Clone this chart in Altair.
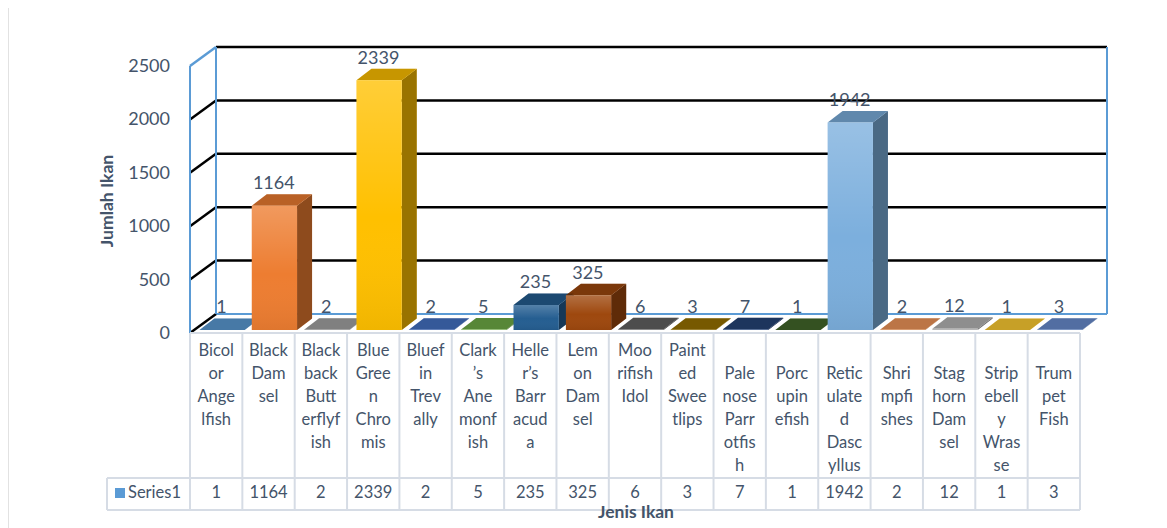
import altair as alt
import pandas as pd

# ---------------- data ----------------
categories = [
    "Bicolor Angelfish", "Black Damsel", "Blackback Butterflyfish", "Blue Green Chromis",
    "Bluefin Trevally", "Clark’s Anemonfish", "Heller’s Barracuda", "Lemon Damsel",
    "Moorish Idol", "Painted Sweetlips", "Palenose Parrotfish", "Porcupinefish",
    "Reticulated Dascyllus", "Shrimpfishes", "Staghorn Damsel", "Stripebelly Wrasse",
    "Trumpet Fish",
]
values = [1, 1164, 2, 2339, 2, 5, 235, 325, 6, 3, 7, 1, 1942, 2, 12, 1, 3]
# category labels as wrapped in the data table header
header_labels = [
    "Bicol|or|Ange|lfish", "Black|Dam|sel", "Black|back|Butt|erflyf|ish",
    "Blue|Gree|n|Chro|mis", "Bluef|in|Trev|ally", "Clark|’s|Ane|monf|ish",
    "Helle|r’s|Barr|acud|a", "Lem|on|Dam|sel", "Moo|rifish|Idol", "Paint|ed|Swee|tlips",
    " |Pale|nose|Parr|otfis|h", " |Porc|upin|efish", " |Retic|ulate|d|Dasc|yllus",
    " |Shri|mpfi|shes", " |Stag|horn|Dam|sel", " |Strip|ebell|y|Wras|se", " |Trum|pet|Fish",
]
y_ticks = [0, 500, 1000, 1500, 2000, 2500]
series_name = "Series1"
y_title = "Jumlah Ikan"
x_title = "Jenis Ikan"

palette = ["#5B9BD5", "#ED7D31", "#A5A5A5", "#FFC000", "#4472C4", "#70AD47",
           "#255E91", "#9E480E", "#636363", "#997300", "#264478", "#43682B",
           "#7CAFDD", "#F1975A", "#B7B7B7", "#FFCD33", "#698ED0"]

TXT = "#44546A"
BLUE = "#5B9BD5"
GRID = "#D6DCE5"
FONT = "Lato"

# ---------------- geometry (pixel layout of the view) ----------------
N = len(categories)
X_RANGE = [182, 1072]          # table columns span
Y_RANGE = [322, 55]            # value 0 .. 2500 at bar front plane
px_per_col = (X_RANGE[1] - X_RANGE[0]) / N
px_per_unit = (Y_RANGE[0] - Y_RANGE[1]) / 2500
DX = 15 / px_per_col           # bar depth, horizontal
DY = 11.5 / px_per_unit        # bar depth, vertical
F0, F1 = 0.18, 1.045           # front face inside a column

xs = alt.Scale(domain=[0, N], range=X_RANGE, nice=False, zero=False)
ys = alt.Scale(domain=[0, 2500], range=Y_RANGE, nice=False, zero=False)

front_rows, side_rows, top_rows, table_rows = [], [], [], []
for i, (c, v, h) in enumerate(zip(categories, values, header_labels)):
    front_rows.append(dict(cat=c, x0=i + F0, x1=i + F1, lo=0, hi=v))
    side_rows.append(dict(cat=c, x=i + F1, lo=0, hi=v))
    side_rows.append(dict(cat=c, x=i + F1 + DX, lo=DY, hi=v + DY))
    top_rows.append(dict(cat=c, y=v, l=i + F0, r=i + F1))
    top_rows.append(dict(cat=c, y=v + DY, l=i + F0 + DX, r=i + F1 + DX))
    table_rows.append(dict(cat=c, xc=i + 0.5, xl=i + 0.6, v=v, head=h))

front = pd.DataFrame(front_rows)
side = pd.DataFrame(side_rows)
top = pd.DataFrame(top_rows)
table = pd.DataFrame(table_rows)
ticks = pd.DataFrame({"t": y_ticks, "t2": y_ticks})
bounds = pd.DataFrame({"b": list(range(N + 1))})

color = alt.Color("cat:N", scale=alt.Scale(domain=categories, range=palette), legend=None)

# ---------------- walls, grid ----------------
grid = alt.Chart(ticks).transform_filter("datum.t > 0").mark_rule(
    color="black", strokeWidth=2.5, yOffset=-16
).encode(x=alt.value(208), x2=alt.value(1099), y=alt.Y("t:Q", scale=ys, axis=None))

floor_back = alt.Chart(ticks).transform_filter("datum.t == 0").mark_rule(
    color=BLUE, strokeWidth=2, yOffset=-16
).encode(x=alt.value(208), x2=alt.value(1099), y=alt.Y("t:Q", scale=ys, axis=None))

stubs = alt.Chart(ticks).mark_rule(strokeWidth=2.5, yOffset=3, y2Offset=-16).encode(
    x=alt.value(182), x2=alt.value(208),
    y=alt.Y("t:Q", scale=ys, axis=None), y2="t2:Q",
    color=alt.condition("datum.t == 2500", alt.value(BLUE), alt.value("black")),
)

wall_left = alt.Chart(ticks).transform_filter("datum.t == 0").mark_rule(
    color=BLUE, strokeWidth=2, yOffset=-16, y2Offset=-16
).encode(x=alt.value(208), y=alt.Y("t:Q", scale=ys, axis=None), y2=alt.datum(2500))
wall_right = alt.Chart(ticks).transform_filter("datum.t == 0").mark_rule(
    color=BLUE, strokeWidth=2, yOffset=-16, y2Offset=-16
).encode(x=alt.value(1099), y=alt.Y("t:Q", scale=ys, axis=None), y2=alt.datum(2500))
front_axis = alt.Chart(ticks).transform_filter("datum.t == 0").mark_rule(
    color=BLUE, strokeWidth=2, yOffset=3, y2Offset=3
).encode(x=alt.value(182), y=alt.Y("t:Q", scale=ys, axis=None), y2=alt.datum(2500))

tick_labels = alt.Chart(ticks).mark_text(
    align="right", baseline="middle", font=FONT, fontSize=18, color=TXT, yOffset=4
).encode(x=alt.value(162), y=alt.Y("t:Q", scale=ys, axis=None), text="t:Q")

# ---------------- 3D bars ----------------
side_faces = alt.Chart(side).mark_area(orient="vertical", opacity=1).encode(
    x=alt.X("x:Q", scale=xs, axis=None),
    y=alt.Y("lo:Q", scale=ys, axis=None, stack=None), y2="hi:Q",
    color=color, detail="cat:N",
)
side_shade = alt.Chart(side).mark_area(orient="vertical", color="black", opacity=0.4).encode(
    x=alt.X("x:Q", scale=xs, axis=None),
    y=alt.Y("lo:Q", scale=ys, axis=None, stack=None), y2="hi:Q",
    detail="cat:N",
)
top_faces = alt.Chart(top).mark_area(orient="horizontal", opacity=1).encode(
    y=alt.Y("y:Q", scale=ys, axis=None),
    x=alt.X("l:Q", scale=xs, axis=None, stack=None), x2="r:Q",
    color=color, detail="cat:N",
)
top_shade = alt.Chart(top).mark_area(orient="horizontal", color="black", opacity=0.22).encode(
    y=alt.Y("y:Q", scale=ys, axis=None),
    x=alt.X("l:Q", scale=xs, axis=None, stack=None), x2="r:Q",
    detail="cat:N",
)
front_faces = alt.Chart(front).mark_rect(opacity=1, fillOpacity=1).encode(
    x=alt.X("x0:Q", scale=xs, axis=None), x2="x1:Q",
    y=alt.Y("hi:Q", scale=ys, axis=None), y2="lo:Q",
    color=color,
)
front_sheen = alt.Chart(front).mark_rect(
    fill=alt.Gradient(
        gradient="linear", x1=0, y1=0, x2=0, y2=1,
        stops=[alt.GradientStop(color="rgba(255,255,255,0.22)", offset=0),
               alt.GradientStop(color="rgba(255,255,255,0.0)", offset=0.55),
               alt.GradientStop(color="rgba(0,0,0,0.06)", offset=1)],
    )
).encode(
    x=alt.X("x0:Q", scale=xs, axis=None), x2="x1:Q",
    y=alt.Y("hi:Q", scale=ys, axis=None), y2="lo:Q",
)
bar_labels = alt.Chart(table).mark_text(
    baseline="alphabetic", align="center", font=FONT, fontSize=18, color=TXT, yOffset=-16.5
).encode(x=alt.X("xl:Q", scale=xs, axis=None), y=alt.Y("v:Q", scale=ys, axis=None), text="v:Q")

# ---------------- data table ----------------
vlines = alt.Chart(bounds).mark_rule(color=GRID, strokeWidth=2).encode(
    x=alt.X("b:Q", scale=xs, axis=None), y=alt.value(325), y2=alt.value(502)
)
hline_top = alt.Chart(bounds).transform_filter("datum.b == 0").mark_rule(color=GRID, strokeWidth=2).encode(
    x=alt.value(182), x2=alt.value(1072), y=alt.value(325))
hline_mid = alt.Chart(bounds).transform_filter("datum.b == 0").mark_rule(color=GRID, strokeWidth=2).encode(
    x=alt.value(99), x2=alt.value(1072), y=alt.value(470))
hline_bot = alt.Chart(bounds).transform_filter("datum.b == 0").mark_rule(color=GRID, strokeWidth=2).encode(
    x=alt.value(99), x2=alt.value(1072), y=alt.value(502))
legend_left = alt.Chart(bounds).transform_filter("datum.b == 0").mark_rule(color=GRID, strokeWidth=2).encode(
    x=alt.value(99), y=alt.value(470), y2=alt.value(502))
outer_left = alt.Chart(bounds).transform_filter("datum.b == 0").mark_rule(color="#D9D9D9", strokeWidth=1.5).encode(
    x=alt.value(0), y=alt.value(-8), y2=alt.value(520))

header_text = alt.Chart(table).mark_text(
    baseline="top", align="center", font=FONT, fontSize=16.5, color=TXT, lineBreak="|", lineHeight=23
).encode(x=alt.X("xc:Q", scale=xs, axis=None), y=alt.value(335), text="head:N")

value_text = alt.Chart(table).mark_text(
    baseline="middle", align="center", font=FONT, fontSize=16.5, color=TXT
).encode(x=alt.X("xc:Q", scale=xs, axis=None), y=alt.value(485), text="v:Q")

legend_key = alt.Chart(bounds).transform_filter("datum.b == 0").mark_rect(color=BLUE).encode(
    x=alt.value(107), x2=alt.value(117), y=alt.value(480), y2=alt.value(490))
legend_text = alt.Chart(bounds).transform_filter("datum.b == 0").mark_text(
    align="left", baseline="middle", font=FONT, fontSize=16.5, color=TXT
).encode(x=alt.value(120), y=alt.value(485), text=alt.value(series_name))

y_title_mark = alt.Chart(bounds).transform_filter("datum.b == 0").mark_text(
    align="center", baseline="middle", font=FONT, fontSize=17.5, fontWeight="bold", color=TXT, angle=270
).encode(x=alt.value(100), y=alt.value(193), text=alt.value(y_title))
x_title_mark = alt.Chart(bounds).transform_filter("datum.b == 0").mark_text(
    align="center", baseline="middle", font=FONT, fontSize=17.5, fontWeight="bold", color=TXT
).encode(x=alt.value(628), y=alt.value(505), text=alt.value(x_title))

chart = alt.layer(
    outer_left,
    grid, floor_back, stubs, wall_left, wall_right, front_axis, tick_labels,
    side_faces, side_shade, top_faces, top_shade, front_faces, front_sheen, bar_labels,
    vlines, hline_top, hline_mid, hline_bot, legend_left,
    header_text, value_text, legend_key, legend_text,
    y_title_mark, x_title_mark,
).properties(
    width=1151, height=520,
    autosize=alt.AutoSizeParams(type="none"),
    padding={"left": 0, "top": 0, "right": 0, "bottom": 0},
    background="white",
).configure_view(stroke=None)

chart.save("out.html", embed_options={"renderer": "svg", "actions": False})
